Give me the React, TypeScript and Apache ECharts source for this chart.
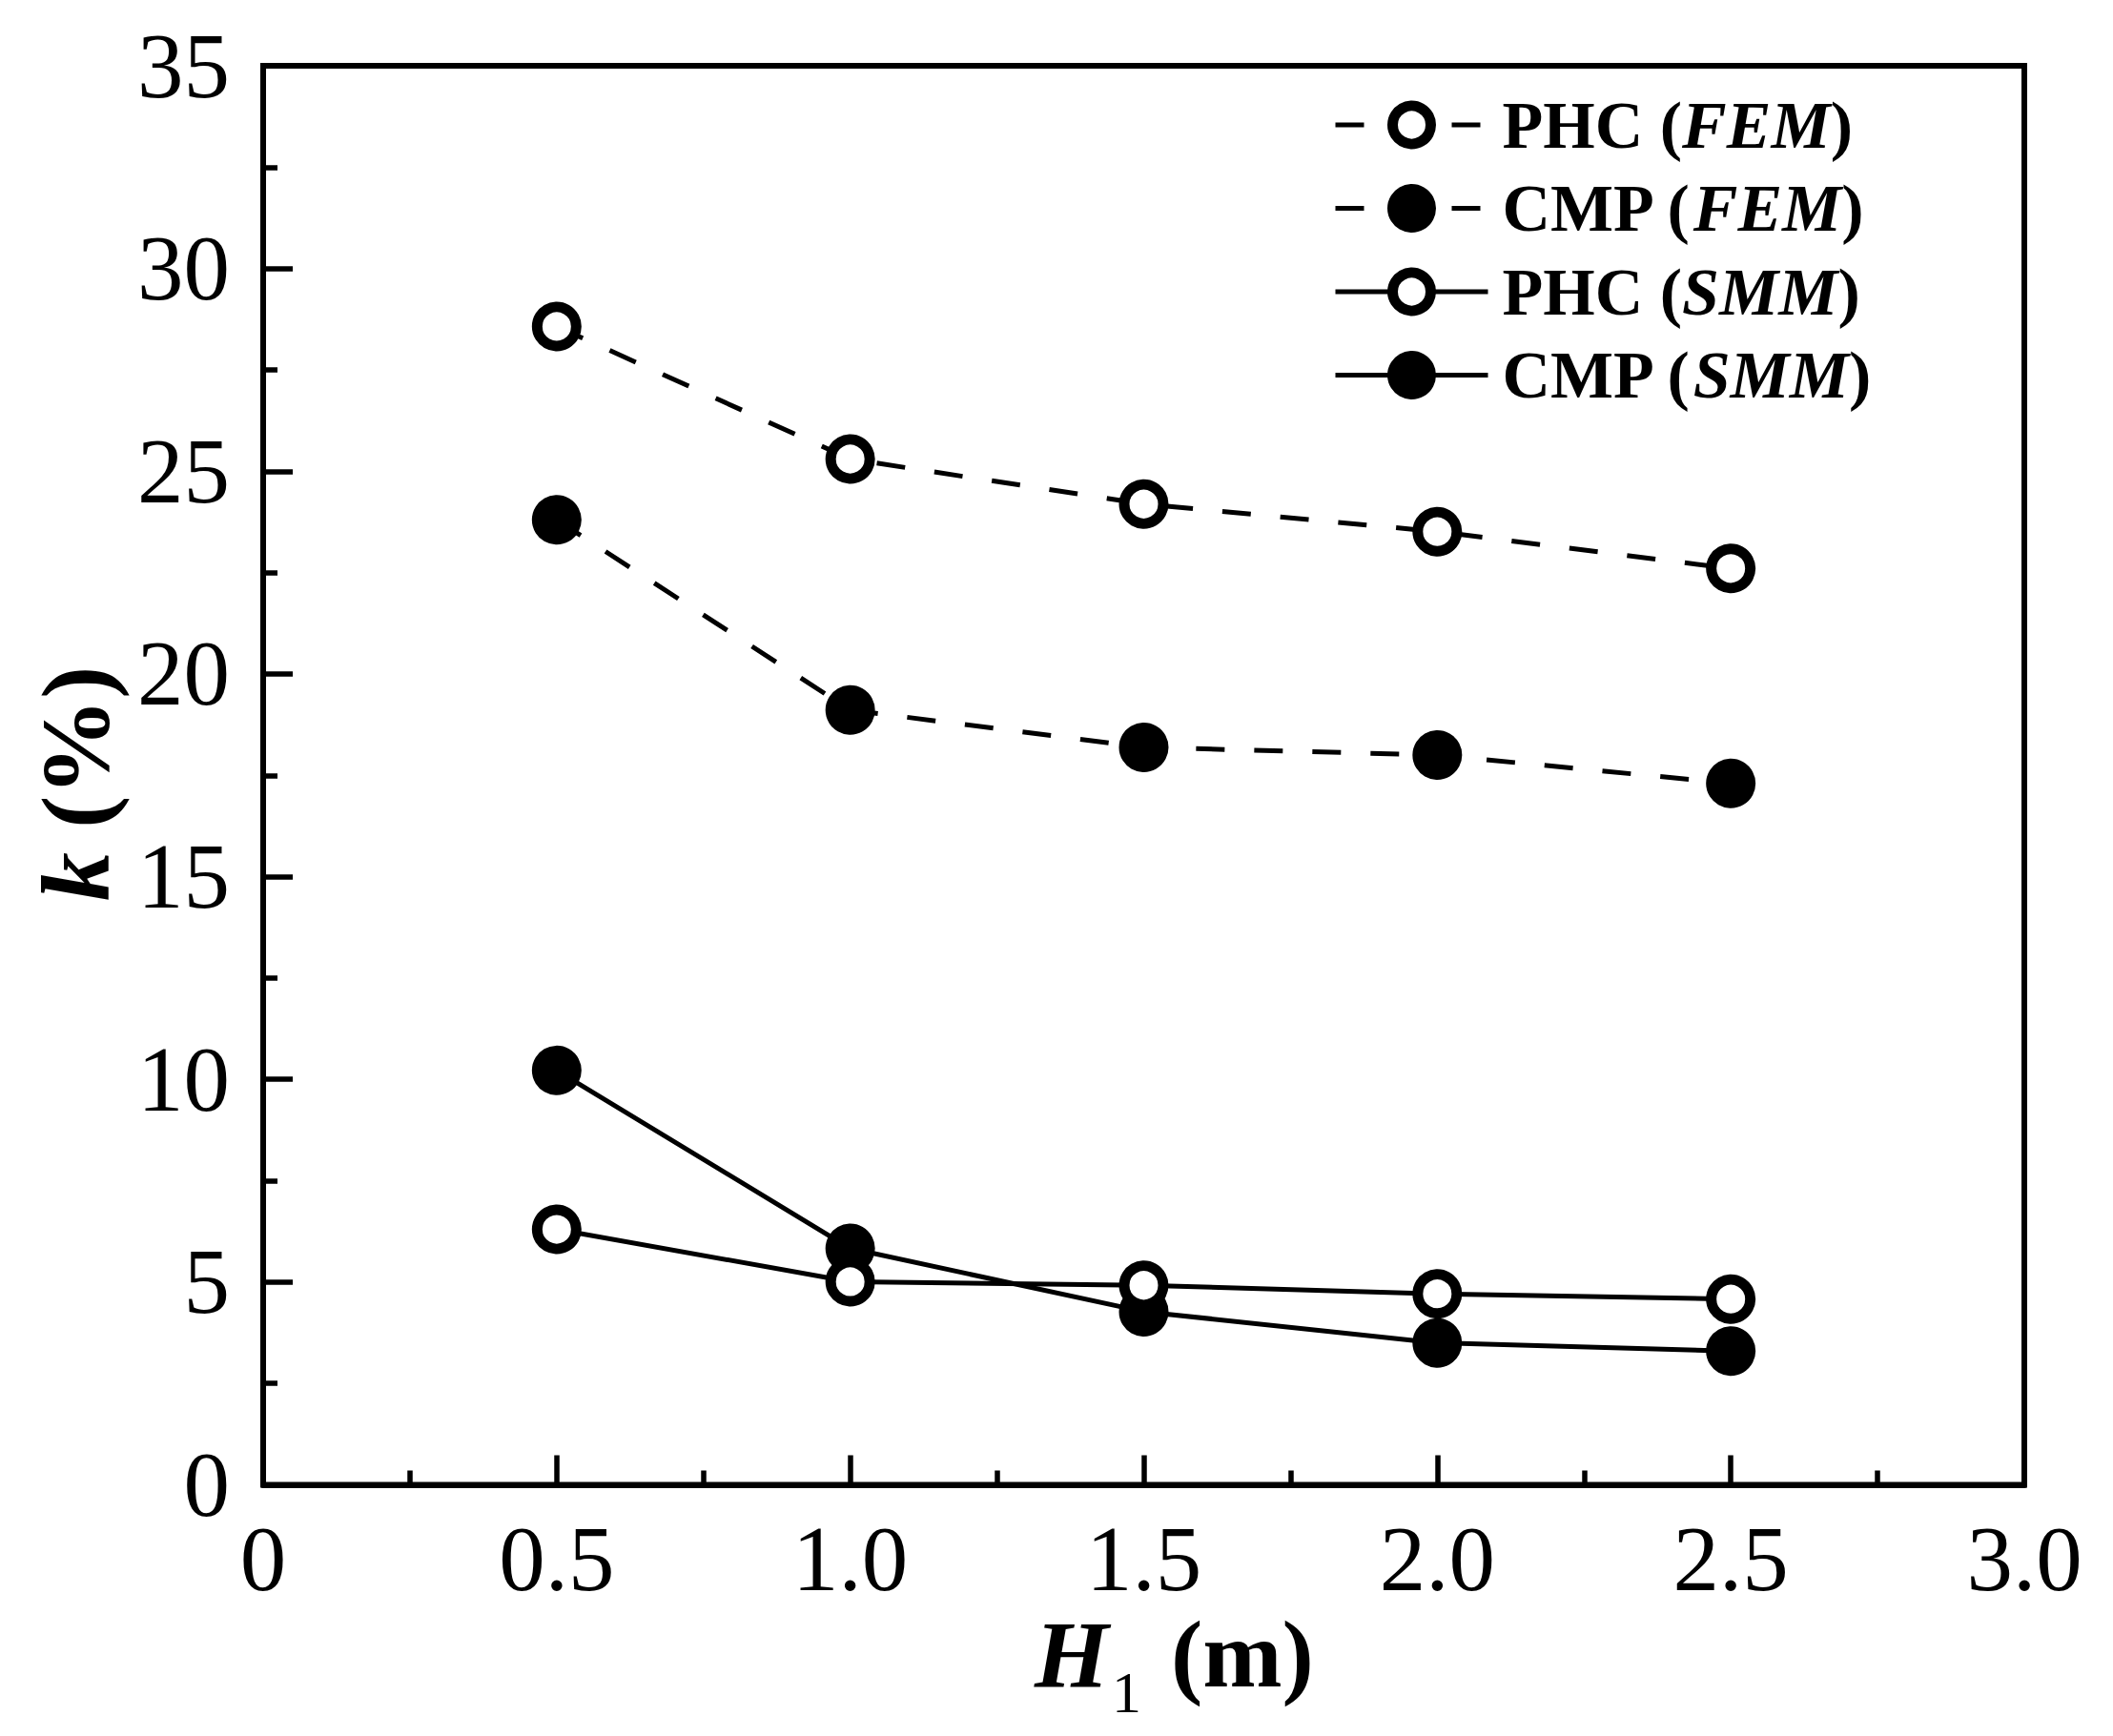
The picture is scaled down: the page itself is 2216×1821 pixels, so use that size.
import React, { useEffect, useRef } from 'react';
import * as echarts from 'echarts';

// ---- data ----
const xValues = [0.5, 1.0, 1.5, 2.0, 2.5];
const phcFem = [28.57, 25.3, 24.19, 23.51, 22.6];
const cmpFem = [23.8, 19.11, 18.19, 18.0, 17.3];
const phcSmm = [6.3, 5.01, 4.92, 4.71, 4.58];
const cmpSmm = [10.22, 5.83, 4.27, 3.5, 3.3];
const seriesNames = ['PHC (FEM)', 'CMP (FEM)', 'PHC (SMM)', 'CMP (SMM)'];
const yTitle = ['k', ' (%)'];
const xTitle = ['H', '1', '(m)'];

const FONT = '"Liberation Serif", "Times New Roman", serif';

const pair = (vals: number[]) => xValues.map((x, i) => [x, vals[i]]);

function makeSeries(name: string, vals: number[], dashed: boolean, filled: boolean) {
  return {
    name,
    type: 'line',
    data: pair(vals),
    symbol: 'circle',
    symbolSize: 41,
    silent: true,
    lineStyle: { color: '#000', width: 5, type: dashed ? [30, 31] : 'solid' },
    itemStyle: { color: filled ? '#000' : '#fff', borderColor: '#000', borderWidth: 11 },
    emphasis: { disabled: true },
  };
}

export default function App() {
  const ref = useRef<HTMLDivElement>(null);
  useEffect(() => {
    document.body.style.margin = '0';
    const chart = echarts.init(ref.current!, null, { renderer: 'svg', width: 2216, height: 1821 });
    const tickStyle = { color: '#000', width: 5.5 };
    const option: any = {
      animation: false,
      backgroundColor: '#fff',
      textStyle: { fontFamily: FONT },
      grid: {
        left: 276,
        right: 93,
        top: 69,
        bottom: 263.5,
        show: true,
        borderColor: '#000',
        borderWidth: 6,
        backgroundColor: 'transparent',
      },
      xAxis: {
        type: 'value',
        min: 0,
        max: 3,
        interval: 0.5,
        axisLine: { show: true, lineStyle: { color: '#000', width: 6 } },
        axisTick: { show: true, inside: true, length: 31, lineStyle: tickStyle },
        minorTick: { show: true, splitNumber: 2, length: 15, lineStyle: tickStyle },
        splitLine: { show: false },
        minorSplitLine: { show: false },
        axisLabel: {
          fontFamily: FONT,
          fontSize: 97,
          color: '#000',
          margin: 29,
          formatter: (v: number) => (v === 0 ? '0' : v.toFixed(1)),
        },
      },
      yAxis: {
        type: 'value',
        min: 0,
        max: 35,
        interval: 5,
        axisLine: { show: true, lineStyle: { color: '#000', width: 6 } },
        axisTick: { show: true, inside: true, length: 31, lineStyle: tickStyle },
        minorTick: { show: true, splitNumber: 2, length: 15, lineStyle: tickStyle },
        splitLine: { show: false },
        minorSplitLine: { show: false },
        axisLabel: { fontFamily: FONT, fontSize: 97, color: '#000', margin: 35 },
      },
      legend: {
        orient: 'vertical',
        left: 1398,
        top: 96,
        padding: 0,
        itemWidth: 160,
        itemHeight: 50,
        itemGap: 17.5,
        selectedMode: false,
        data: seriesNames,
        itemStyle: { borderWidth: 11 },
        lineStyle: { width: 5 },
        formatter: (name: string) => {
          const m = name.match(/^(\S+) \((\S+)\)$/);
          return m ? `${m[1]} ({i|${m[2]}})` : name;
        },
        textStyle: {
          fontFamily: FONT,
          fontSize: 70,
          fontWeight: 'bold',
          color: '#000',
          lineHeight: 70,
          padding: [0, 0, 0, 10],
          rich: {
            i: {
              fontFamily: FONT,
              fontSize: 70,
              fontWeight: 'bold',
              fontStyle: 'italic',
              color: '#000',
              lineHeight: 70,
            },
          },
        },
      },
      graphic: [
        {
          type: 'text',
          x: 79,
          y: 822,
          rotation: Math.PI / 2,
          silent: true,
          style: {
            text: `{i|${yTitle[0]}}${yTitle[1]}`,
            fontFamily: FONT,
            fontSize: 102,
            fontWeight: 'bold',
            fill: '#000',
            align: 'center',
            verticalAlign: 'middle',
            textAlign: 'center',
            textVerticalAlign: 'middle',
            rich: {
              i: { fontFamily: FONT, fontSize: 102, fontWeight: 'bold', fontStyle: 'italic', fill: '#000' },
            },
          },
        },
        {
          type: 'text',
          x: 1085,
          y: 1735,
          silent: true,
          style: {
            text: xTitle[0],
            fontFamily: FONT,
            fontSize: 100,
            fontWeight: 'bold',
            fontStyle: 'italic',
            fill: '#000',
            align: 'left',
            verticalAlign: 'middle',
            textAlign: 'left',
            textVerticalAlign: 'middle',
          },
        },
        {
          type: 'text',
          x: 1166,
          y: 1775,
          silent: true,
          style: {
            text: xTitle[1],
            fontFamily: FONT,
            fontSize: 62,
            fill: '#000',
            align: 'left',
            verticalAlign: 'middle',
            textAlign: 'left',
            textVerticalAlign: 'middle',
          },
        },
        {
          type: 'text',
          x: 1228,
          y: 1735,
          silent: true,
          style: {
            text: xTitle[2],
            fontFamily: FONT,
            fontSize: 100,
            fontWeight: 'bold',
            fill: '#000',
            align: 'left',
            verticalAlign: 'middle',
            textAlign: 'left',
            textVerticalAlign: 'middle',
          },
        },
      ],
      series: [
        makeSeries(seriesNames[0], phcFem, true, false),
        makeSeries(seriesNames[1], cmpFem, true, true),
        makeSeries(seriesNames[3], cmpSmm, false, true),
        makeSeries(seriesNames[2], phcSmm, false, false),
      ],
    };
    chart.setOption(option);
    return () => chart.dispose();
  }, []);
  return <div ref={ref} style={{ width: 2216, height: 1821 }} />;
}
